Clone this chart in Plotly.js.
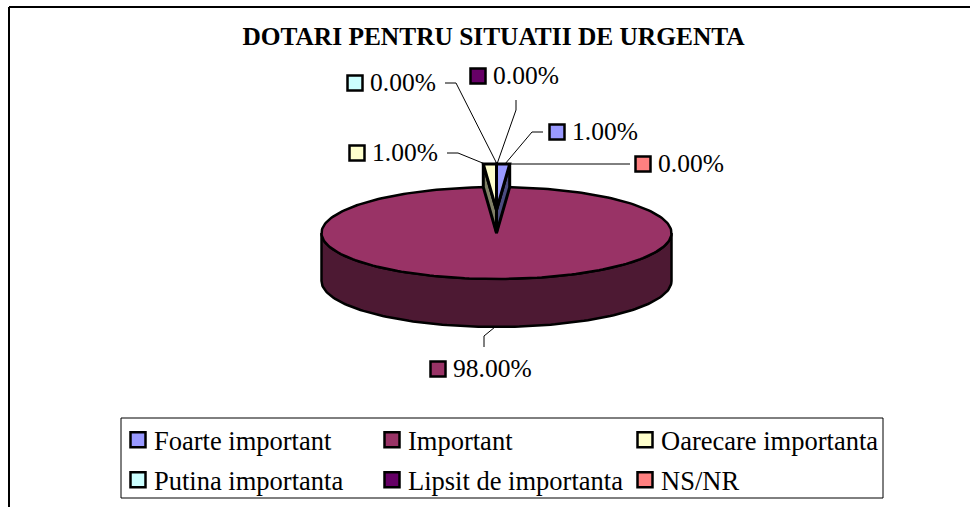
<!DOCTYPE html>
<html>
<head>
<meta charset="utf-8">
<script src="https://cdn.plot.ly/plotly-3.0.1.min.js"></script>
<style>html,body{margin:0;padding:0;background:#fff}#chart{width:970px;height:508px}</style>
</head>
<body>
<div id="chart"></div>
<script>
// Data
var categories = ['Foarte important','Important','Oarecare importanta','Putina importanta','Lipsit de importanta','NS/NR'];
var values = [1, 98, 1, 0, 0, 0];
var chartTitle = 'DOTARI PENTRU SITUATII DE URGENTA';
// Styles
var colors = ['#9999FF','#993366','#FFFFCC','#CCFFFF','#660066','#FF8080'];
var wallColors = ['#4C4C80','#4D1933','#808066','#668080','#330033','#804040'];
// Geometry of the drawing (plot units = pixels)
var cx = 496.5, cy = 233, rx = 175, ry = 46, depth = 48;
var liftY = 23, sliverWall = 23, sliverScale = 1.2, tipY = 233;
var keyX = [557, 438, 357, 355, 478, 643];
var keyY = [132, 369, 153, 83, 76, 164];
var legendX = [114, 368, 621, 114, 368, 621];
var legendY = [440, 440, 440, 480, 480, 480];
var leaderX = [[505,532,543],[495,484,484],[485,458,447],[497,456,445],[497,516,516],[505,630]];
var leaderY = [[164,132,132],[327,336,347],[164,153,153],[164,83,83],[164,110,100],[164,164]];

var FONT = '"Liberation Serif","Times New Roman",serif';
var total = values.reduce(function(a,b){return a+b;},0);
var traces = [];

function arc(f0, f1, scale, dy){
  var xs = [], ys = [], n = Math.max(2, Math.ceil(Math.abs(f1-f0)*240));
  for (var i = 0; i <= n; i++){
    var t = 2*Math.PI*(f0+(f1-f0)*i/n);
    xs.push(cx+rx*scale*Math.sin(t));
    ys.push(cy+dy-ry*Math.cos(t));
  }
  return {x:xs,y:ys};
}
function poly(xs, ys, fill, w){
  traces.push({type:'scatter',mode:'lines',x:xs,y:ys,fill:'toself',fillcolor:fill,
    line:{color:'#000',width:w===undefined?2.5:w,shape:'linear'},showlegend:false,hoverinfo:'skip'});
}
// fractions
var starts = [], acc = 0;
values.forEach(function(v){starts.push(acc/total); acc += v;});
function end(i){return starts[i]+values[i]/total;}

// big slice side wall and top
var big = values.indexOf(Math.max.apply(null,values));
var lower = arc(0.25,0.75,1,0);
var wallX = lower.x.concat(lower.x.slice().reverse(),[lower.x[0]]);
var wallY = lower.y.concat(lower.y.slice().reverse().map(function(y){return y+depth;}),[lower.y[0]]);
poly(wallX, wallY, wallColors[big]);
var top_ = arc(starts[big], end(big), 1, 0);
poly([cx].concat(top_.x,[cx]), [cy].concat(top_.y,[cy]), colors[big]);

// small, pulled-out slices
values.forEach(function(v,i){
  if (i===big) return;
  var a = arc(starts[i], end(i), sliverScale, -liftY);
  var mid = starts[i] < 0.5 ? a.x.length-1 : 0;
  poly([a.x[mid],a.x[mid],cx,cx,a.x[mid]],
       [a.y[mid],a.y[mid]+sliverWall,tipY,cy-liftY,a.y[mid]], wallColors[i], 3);
});
values.forEach(function(v,i){
  if (i===big) return;
  var a = arc(starts[i], end(i), sliverScale, -liftY);
  poly([cx].concat(a.x,[cx]), [cy-liftY].concat(a.y,[cy-liftY]), colors[i], 3);
});

// leader lines
leaderX.forEach(function(xs,i){
  traces.push({type:'scatter',mode:'lines',x:xs,y:leaderY[i],line:{color:'#000',width:1},showlegend:false,hoverinfo:'skip'});
});
// label keys (also the legend entries) and label text
var legendIds = ['legend','legend2','legend3','legend4','legend5','legend6'];
categories.forEach(function(c,i){
  traces.push({type:'scatter',mode:'markers',x:[keyX[i]],y:[keyY[i]],name:c,
    legend: legendIds[i],
    marker:{symbol:'square',size:15,color:colors[i],line:{color:'#000',width:2.5}},hoverinfo:'skip'});
  traces.push({type:'scatter',mode:'text',x:[keyX[i]+15],y:[keyY[i]+2],text:[values[i].toFixed(2)+'%'],
    textposition:'middle right',textfont:{family:FONT,size:25.5,color:'#000'},
    showlegend:false,hoverinfo:'skip',cliponaxis:false});
});

function legendAt(xPx,yPx){
  return {orientation:'h',x:xPx/970,xanchor:'left',y:1-yPx/508,yanchor:'middle',
    bgcolor:'rgba(0,0,0,0)',borderwidth:0,
    font:{family:FONT,size:26.5,color:'#000'},itemclick:false,itemdoubleclick:false};
}
var layout = {
  width:970,height:508,margin:{l:0,r:0,t:0,b:0,autoexpand:false},paper_bgcolor:'#fff',plot_bgcolor:'#fff',
  title:{text:'<b>'+chartTitle+'</b>',font:{family:FONT,size:25.4,color:'#000'},
    xref:'paper',yref:'paper',x:493.5/970,xanchor:'center',y:1-36/508,yanchor:'middle'},
  xaxis:{range:[0,970],visible:false,fixedrange:true},
  yaxis:{range:[508,0],visible:false,fixedrange:true},
  shapes:[
    {type:'line',xref:'x',yref:'y',x0:9,x1:970,y0:7,y1:7,line:{color:'#000',width:2},layer:'below'},
    {type:'line',xref:'x',yref:'y',x0:9,x1:9,y0:7,y1:507,line:{color:'#000',width:2},layer:'below'},
    {type:'rect',xref:'x',yref:'y',x0:121,x1:883,y0:418,y1:498,line:{color:'#000',width:1},layer:'below'}
  ],
  showlegend:true
};
legendIds.forEach(function(id,i){ layout[id] = legendAt(legendX[i],legendY[i]); });
Plotly.newPlot('chart',traces,layout,{displayModeBar:false,staticPlot:true}).then(function(gd){
  // move legend swatches closer to their text, as in the reference
  gd.querySelectorAll('.legendpoints').forEach(function(g){ g.setAttribute('transform','translate(4,0)'); });
});
</script>
</body>
</html>
